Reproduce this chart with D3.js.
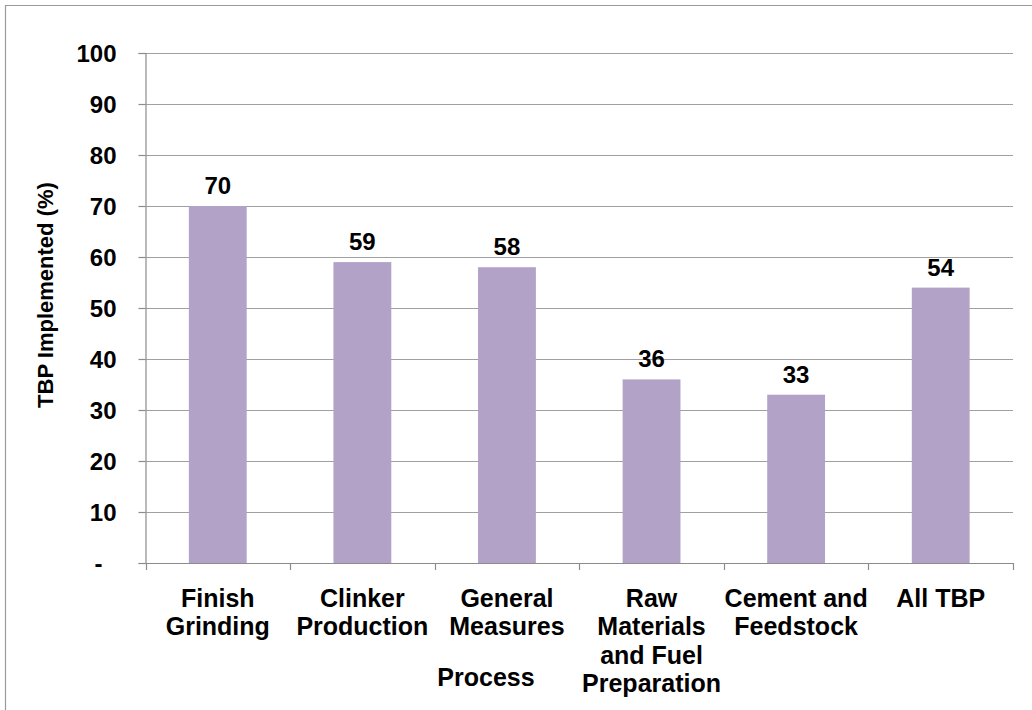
<!DOCTYPE html>
<html>
<head>
<meta charset="utf-8">
<script src="https://cdn.jsdelivr.net/npm/d3@7"></script>
<style>
  html, body { margin: 0; padding: 0; background: #fff; }
  svg { display: block; }
  text { font-family: "Liberation Sans", Arial, sans-serif; font-weight: bold; fill: #000; }
</style>
</head>
<body>
<svg id="chart" width="1032" height="710"></svg>
<script>
// Share of technically best practices implemented, by process area
const categories = [
  ["Finish", "Grinding"],
  ["Clinker", "Production"],
  ["General", "Measures"],
  ["Raw", "Materials", "and Fuel", "Preparation"],
  ["Cement and", "Feedstock"],
  ["All TBP"]
];
const values = [70, 59, 58, 36, 33, 54];
const yTicks = [0, 10, 20, 30, 40, 50, 60, 70, 80, 90, 100];
const yTitle = "TBP Implemented (%)";
const xTitle = "Process";

const svg = d3.select("#chart");
const W = 1032, H = 710;
const plot = { left: 145.5, right: 1013, top: 53, bottom: 563 };

// outer frame (open on the right and bottom)
svg.append("path")
  .attr("d", `M5.5,${H} V5.5 H${W}`)
  .attr("fill", "none")
  .attr("stroke", "#9a9a9a")
  .attr("stroke-width", 1.2);

const idx = categories.map((d, i) => i);
const x = d3.scaleBand().domain(idx).range([plot.left, plot.right]).padding(0);
const y = d3.scaleLinear().domain([0, 100]).range([plot.bottom, plot.top]);

// horizontal gridlines
svg.append("g")
  .selectAll("line")
  .data(yTicks.filter(t => t > 0))
  .join("line")
  .attr("x1", plot.left)
  .attr("x2", plot.right)
  .attr("y1", d => Math.round(y(d)) + 0.5)
  .attr("y2", d => Math.round(y(d)) + 0.5)
  .attr("stroke", "#a0a0a0")
  .attr("stroke-width", 1.2);

// bars
const barW = x.bandwidth() * 0.4;
svg.append("g")
  .selectAll("rect")
  .data(values)
  .join("rect")
  .attr("x", (d, i) => x(i) + (x.bandwidth() - barW) / 2)
  .attr("y", d => y(d))
  .attr("width", barW)
  .attr("height", d => y(0) - y(d))
  .attr("fill", "#b3a2c7");

// value labels
svg.append("g")
  .selectAll("text")
  .data(values)
  .join("text")
  .attr("x", (d, i) => x(i) + x.bandwidth() / 2)
  .attr("y", d => y(d) - 12)
  .attr("text-anchor", "middle")
  .style("font-size", "24px")
  .text(d => d3.format("d")(d));

// y axis
const yAxis = d3.axisLeft(y)
  .tickValues(yTicks)
  .tickSize(7)
  .tickPadding(22)
  .tickFormat(d => d === 0 ? "-" : String(d));
const gy = svg.append("g")
  .attr("transform", `translate(${plot.left},0)`)
  .call(yAxis);
gy.select(".domain").attr("stroke", "#8c8c8c").attr("stroke-width", 1.2);
gy.selectAll(".tick line").attr("stroke", "#8c8c8c").attr("stroke-width", 1.2);
gy.selectAll(".tick text")
  .style("font-size", "24px")
  .attr("fill", "#000")
  .attr("dy", "0.35em")
  .attr("dx", d => d === 0 ? -14 : 0);

// x axis
const gx = svg.append("g")
  .attr("transform", `translate(0,${plot.bottom})`);
gx.append("line")
  .attr("x1", plot.left).attr("x2", plot.right)
  .attr("y1", 0.5).attr("y2", 0.5)
  .attr("stroke", "#8c8c8c").attr("stroke-width", 1.2);
const boundaries = idx.map(i => x(i)).concat([x(idx.length - 1) + x.bandwidth()]);
gx.selectAll("line.tk")
  .data(boundaries)
  .join("line")
  .attr("class", "tk")
  .attr("x1", d => Math.round(d) + 0.5)
  .attr("x2", d => Math.round(d) + 0.5)
  .attr("y1", 0)
  .attr("y2", 7)
  .attr("stroke", "#8c8c8c")
  .attr("stroke-width", 1.2);

// category labels (multi-line)
const catG = svg.append("g");
categories.forEach((lines, i) => {
  const t = catG.append("text")
    .attr("text-anchor", "middle")
    .style("font-size", "25px");
  lines.forEach((ln, k) => {
    t.append("tspan")
      .attr("x", x(i) + x.bandwidth() / 2)
      .attr("y", 607 + k * 28.4)
      .text(ln);
  });
});

// axis titles
svg.append("text")
  .attr("x", 486)
  .attr("y", 686)
  .attr("text-anchor", "middle")
  .style("font-size", "25px")
  .text(xTitle);

svg.append("text")
  .attr("transform", "translate(53,295) rotate(-90)")
  .attr("text-anchor", "middle")
  .style("font-size", "22px")
  .text(yTitle);
</script>
</body>
</html>
